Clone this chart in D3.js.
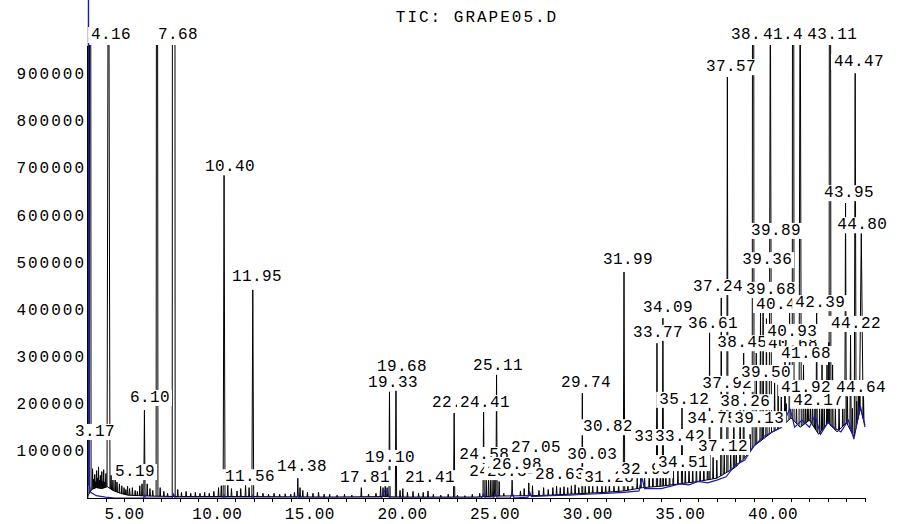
<!DOCTYPE html>
<html>
<head>
<meta charset="utf-8">
<script src="https://cdn.jsdelivr.net/npm/d3@7/dist/d3.min.js"></script>
<style>
    body { margin: 0; background: #fff; }
    text { font-family: "Liberation Mono", "DejaVu Sans Mono", monospace; font-size: 16px; fill: #000; }
    .axis path, .axis line { stroke: #000; stroke-width: 1px; shape-rendering: crispEdges; }
</style>
</head>
<body>
<div id="chart"></div>
<script>
/* * * * * * * * * * * * * *
*      TIC chromatogram     *
* * * * * * * * * * * * * */

// all abundances below are in thousands of counts
const chartTitle = "TIC: GRAPE05.D";
const xTickValues = [5, 10, 15, 20, 25, 30, 35, 40];
const yTickValues = [100, 200, 300, 400, 500, 600, 700, 800, 900];

// named peaks: retention time, apex abundance, peak width (min)
const peakRT = [3.17, 4.16, 6.10, 6.78, 7.68, 10.40, 11.95, 19.33, 19.68, 22.82, 24.41, 25.11,
    29.74, 31.99, 33.77, 34.09, 35.12, 36.61, 37.24, 37.57, 37.92, 38.26, 38.45, 38.96,
    39.13, 39.36, 39.50, 39.68, 39.89, 40.12, 40.31, 40.48, 40.68, 40.93, 41.12, 41.50,
    41.68, 41.92, 42.17, 42.39, 42.68, 42.95, 43.05, 43.11, 43.25, 43.95, 44.22, 44.47,
    44.64, 44.80];
const peakHeight = [3000, 1500, 186, 3000, 8000, 684, 441, 225, 255, 180, 182, 261,
    222, 479, 328, 381, 191, 350, 424, 892, 180, 200, 307, 3000,
    307, 392, 392, 380, 1100, 244, 240, 214, 300, 392, 3000, 1200,
    282, 250, 215, 392, 282, 282, 330, 3000, 282, 625, 345, 900,
    230, 561];
const peakWidth = [0.10, 0.16, 0.07, 0.10, 0.16, 0.10, 0.10, 0.07, 0.07, 0.07, 0.07, 0.07,
    0.05, 0.08, 0.07, 0.07, 0.07, 0.06, 0.07, 0.07, 0.06, 0.06, 0.06, 0.10,
    0.06, 0.07, 0.06, 0.07, 0.12, 0.06, 0.05, 0.08, 0.06, 0.07, 0.10, 0.12,
    0.06, 0.06, 0.06, 0.07, 0.06, 0.06, 0.06, 0.10, 0.06, 0.08, 0.07, 0.10,
    0.06, 0.20];

// small unlabelled spikes riding on the baseline
const noiseRT = [3.30, 3.36, 3.42, 3.48, 3.52, 3.58, 3.62, 3.68, 3.72, 3.80, 3.86, 3.90, 3.96, 4.02,
    4.30, 4.40, 4.52, 4.62, 4.75, 4.88,
    5.00, 5.10, 5.19, 5.30, 5.45, 5.60, 5.72, 5.85, 5.97, 6.25, 6.40, 6.55, 6.95, 7.15, 7.35,
    7.90, 8.10, 8.35, 8.60, 8.85, 9.10, 9.35, 9.60, 9.85, 10.10, 10.25, 10.60, 10.80, 11.10,
    11.30, 11.56, 11.75, 12.20, 12.50, 12.80, 13.10, 13.40, 13.70, 14.00, 14.20, 14.38, 14.50,
    14.65, 14.90, 15.20, 15.50, 15.80, 16.10, 16.50, 16.90, 17.30, 17.81, 18.20, 18.60, 18.85,
    18.98, 19.10, 19.20, 19.90, 20.05, 20.30, 20.60, 20.90, 21.15, 21.41, 21.70, 22.10, 22.50,
    23.00, 23.40, 23.80, 24.20, 24.55, 24.68, 24.80, 24.92, 25.02, 25.25, 25.50, 25.95, 26.40,
    26.60, 26.85, 27.05, 27.40, 27.65, 27.90, 28.15, 28.35, 28.55, 28.75, 28.95, 29.15, 29.35,
    29.55, 29.90, 30.10, 30.30, 30.55, 30.80, 31.00, 31.20, 31.45, 31.70, 32.20, 32.45, 32.70,
    32.90, 33.10, 33.35, 33.55, 33.95, 34.25, 34.45, 34.65, 34.90, 35.30, 35.50, 35.70, 35.90,
    36.10, 36.30, 36.50, 36.80, 37.00, 37.40, 37.75, 38.05, 38.65, 38.80, 40.75, 41.30, 41.80,
    42.05, 42.30, 42.55, 42.80, 43.40, 43.60, 43.80, 44.05, 44.32, 44.55, 44.72, 44.92];
const noiseHeight = [62, 40, 50, 35, 58, 42, 66, 38, 48, 56, 36, 60, 34, 52,
    48, 40, 44, 34, 30, 26,
    22, 18, 25, 20, 22, 16, 14, 26, 30, 30, 20, 16, 22, 14, 10,
    18, 12, 14, 10, 12, 10, 12, 10, 14, 22, 26, 28, 20, 15,
    20, 30, 22, 12, 10, 8, 10, 8, 9, 8, 12, 42, 22,
    16, 12, 10, 12, 8, 8, 6, 8, 6, 22, 8, 10, 26,
    22, 30, 22, 16, 20, 12, 14, 10, 12, 15, 8, 6, 8,
    6, 5, 8, 10, 42, 45, 42, 38, 40, 35, 10, 38, 15,
    20, 32, 26, 16, 22, 18, 22, 25, 22, 24, 22, 26, 28,
    22, 26, 30, 28, 32, 30, 28, 32, 26, 30, 36, 40, 46,
    55, 48, 58, 64, 56, 62, 66, 72, 58, 62, 72, 66, 76,
    70, 82, 76, 86, 80, 92, 96, 110, 125, 135, 200, 195, 205,
    200, 190, 195, 205, 195, 190, 200, 215, 190, 205, 235, 215];

// black trace baseline
const baseRT = [3.00, 3.25, 3.50, 3.80, 4.10, 4.40, 4.80, 5.20, 5.80, 6.50, 8.00, 12.0, 16.0,
    19.0, 20.0, 24.0, 25.0, 27.0, 28.0, 29.0, 30.0, 31.0, 32.0, 33.0, 34.0, 35.0, 36.0, 37.0,
    38.0, 38.5, 39.0, 39.5, 40.0, 40.5, 41.0, 41.5, 42.0, 42.5, 43.0, 43.5, 44.0, 44.4, 44.75, 45.0];
const baseValue = [2, 18, 22, 20, 24, 16, 10, 6, 5, 4, 3, 3, 2,
    3, 2, 2, 4, 5, 6, 8, 10, 12, 15, 22, 25, 30, 35, 42,
    65, 85, 110, 125, 140, 150, 170, 150, 165, 135, 160, 140, 160, 130, 190, 155];

// blue overlay trace
const blueRT = [3.00, 3.05, 3.08, 3.11, 3.20, 3.50, 4.00, 4.50, 6.05, 6.10, 6.15, 7.60, 7.68, 7.76,
    10.35, 10.40, 10.45, 11.90, 11.95, 12.00, 14.30, 14.38, 14.46, 18.90, 19.05, 19.20, 19.35,
    24.30, 24.40, 24.50, 24.95, 25.05, 25.15, 25.85, 25.95, 26.05, 26.80, 26.90, 27.00, 28.0,
    29.0, 30.0, 31.0, 32.0, 32.80, 32.95, 33.10, 34.0, 35.0, 35.5, 36.0, 36.5, 37.0, 37.5, 38.0,
    38.5, 39.0, 39.5, 40.0, 40.5, 40.95, 41.2, 41.6, 42.0, 42.3, 42.6, 43.0, 43.3, 43.7, 44.1,
    44.4, 44.75, 45.0];
const blueValue = [0, 0, 1300, 30, 12, 5, 2, 0, 0, 6, 0, 0, 8, 0,
    0, 6, 0, 0, 5, 0, 0, 6, 0, 0, 15, 14, 0,
    0, 8, 0, 0, 10, 0, 0, 12, 0, 2, 12, 3, 5,
    6, 8, 10, 12, 15, 44, 20, 20, 30, 28, 35, 32, 38, 45, 70,
    80, 110, 130, 140, 150, 190, 150, 165, 150, 175, 135, 160, 150, 140, 165,
    125, 195, 150];

// retention time labels: text, anchor time, anchor abundance
const labelText = ["3.17", "4.16", "5.19", "6.10", "7.68", "10.40", "11.56", "11.95", "14.38", "17.81",
    "19.10", "19.33", "19.68", "21.41", "22.82", "24.41", "24.58", "24.86", "25.11", "25.34",
    "26.98", "27.05", "28.63", "29.74", "30.03", "30.82", "31.28", "31.99", "32.99", "33.08",
    "33.42", "33.77", "34.09", "34.51", "34.75", "35.12", "36.61", "37.12", "37.24", "37.57",
    "37.92", "38.26", "38.45", "38.96", "39.13", "39.36", "39.50", "39.68", "39.89", "40.42",
    "40.68", "40.93", "41.41", "41.68", "41.92", "42.17", "42.39", "43.11", "43.95", "44.22",
    "44.47", "44.64", "44.80"];
const labelRT = [3.43, 4.30, 5.59, 6.40, 7.91, 10.72, 11.80, 12.18, 14.61, 18.01,
    19.36, 19.52, 20.01, 21.52, 22.98, 24.49, 24.44, 24.98, 25.19, 25.95,
    26.22, 27.24, 28.54, 29.94, 30.27, 31.13, 31.19, 32.21, 33.18, 33.89,
    35.02, 33.83, 34.37, 35.18, 36.75, 35.24, 36.80, 37.34, 37.07, 37.77,
    37.56, 38.53, 38.37, 39.12, 39.29, 39.72, 39.66, 39.93, 40.20, 40.47,
    41.12, 41.07, 40.85, 41.82, 41.82, 42.47, 42.58, 43.23, 44.14, 44.52,
    44.68, 44.79, 44.85];
const labelLevel = [140, 981, 55, 212, 981, 701, 44, 468, 66, 42,
    85, 244, 278, 42, 201, 201, 91, 55, 280, 55,
    70, 106, 49, 244, 91, 150, 42, 504, 59, 129,
    129, 350, 403, 74, 167, 208, 369, 108, 447, 913,
    242, 203, 328, 981, 167, 504, 265, 441, 566, 409,
    326, 352, 981, 305, 233, 206, 413, 981, 646, 369,
    924, 233, 578];


class ChromVis {

    constructor(parentElement) {
        this.parentElement = parentElement;
        this.initVis();
    }

    initVis() {
        let vis = this;

        vis.margin = {top: 45, right: 40, bottom: 26, left: 87};
        vis.width = 905 - vis.margin.left - vis.margin.right;
        vis.height = 524 - vis.margin.top - vis.margin.bottom;

        vis.root = d3.select("#" + vis.parentElement).append("svg")
            .attr("width", 905)
            .attr("height", 524);

        vis.svg = vis.root.append("g")
            .attr("transform", `translate(${vis.margin.left}, ${vis.margin.top})`);

        vis.x = d3.scaleLinear().domain([3.0, 45.0]).range([0, vis.width]);
        vis.y = d3.scaleLinear().domain([0, 960]).range([vis.height, 0]);

        // black trace is cut at the top of the frame
        vis.root.append("clipPath").attr("id", "plot-clip")
            .append("rect")
            .attr("x", 0).attr("y", 0)
            .attr("width", vis.width + 1).attr("height", vis.height);

        vis.line = d3.line()
            .x(d => vis.x(d[0]))
            .y(d => vis.y(d[1]));

        vis.wrangleData();
    }

    wrangleData() {
        let vis = this;

        vis.baseline = baseRT.map((t, i) => [t, baseValue[i]]);
        vis.blue = blueRT.map((t, i) => [t, blueValue[i]]);

        // baseline under each spike comes from a piecewise scale over the knots
        vis.baseAt = d3.scaleLinear().domain(baseRT).range(baseValue).clamp(true);

        let spike = (t, h, w) => [
            [t - w / 2, vis.baseAt(t - w / 2)],
            [t, h],
            [t + w / 2, vis.baseAt(t + w / 2)]
        ];

        vis.spikes = noiseRT.map((t, i) => spike(t, noiseHeight[i], 0.05))
            .concat(peakRT.map((t, i) => spike(t, peakHeight[i], peakWidth[i])));

        vis.labels = labelText.map((s, i) => ({text: s, t: labelRT[i], v: labelLevel[i]}))
            .sort((a, b) => parseFloat(a.text) - parseFloat(b.text));

        vis.updateVis();
    }

    updateVis() {
        let vis = this;

        let trace = vis.svg.append("g").attr("clip-path", "url(#plot-clip)");

        trace.append("path")
            .attr("d", vis.line(vis.baseline))
            .attr("fill", "none")
            .attr("stroke", "#000")
            .attr("stroke-width", 1);

        // blue overlay is not clipped, the solvent front runs off the top
        vis.svg.append("path")
            .attr("d", vis.line(vis.blue))
            .attr("fill", "none")
            .attr("stroke", "#1c1ca8")
            .attr("stroke-width", 1.2);

        trace.selectAll("path.spike")
            .data(vis.spikes)
            .enter().append("path")
            .attr("class", "spike")
            .attr("d", d => vis.line(d))
            .attr("fill", "none")
            .attr("stroke", "#000")
            .attr("stroke-width", 1);

        // axes
        vis.svg.append("g")
            .attr("class", "axis x-axis")
            .attr("transform", `translate(0, ${vis.height})`)
            .call(d3.axisBottom(vis.x)
                .tickValues(d3.range(4, 46))
                .tickSize(4)
                .tickSizeOuter(0)
                .tickPadding(6)
                .tickFormat(d => xTickValues.includes(d) ? d3.format(".2f")(d) : ""))
            .selectAll("text")
            .style("font-size", "16px")
            .style("letter-spacing", "0.4px")
            .style("font-family", "'Liberation Mono', monospace");

        vis.svg.append("g")
            .attr("class", "axis y-axis")
            .call(d3.axisLeft(vis.y)
                .tickValues(yTickValues)
                .tickSize(0)
                .tickSizeOuter(0)
                .tickPadding(1)
                .tickFormat(d => d3.format("d")(d * 1000)))
            .selectAll("text")
            .style("font-size", "16px")
            .style("letter-spacing", "2px")
            .style("font-family", "'Liberation Mono', monospace");

        // title
        vis.root.append("text")
            .attr("x", 477)
            .attr("y", 18)
            .attr("text-anchor", "middle")
            .attr("dominant-baseline", "central")
            .style("letter-spacing", "2px")
            .text(chartTitle);

        // retention time labels, later ones paint over earlier ones
        let labelGroup = vis.svg.append("g").attr("class", "rt-labels");
        vis.labels.forEach(d => {
            let g = labelGroup.append("g");
            let bg = g.append("rect").attr("fill", "#fff");
            let txt = g.append("text")
                .attr("x", vis.x(d.t))
                .attr("y", vis.y(d.v))
                .attr("text-anchor", "middle")
                .attr("dominant-baseline", "central")
                .style("letter-spacing", "0.4px")
                .text(d.text);
            let box = txt.node().getBBox();
            bg.attr("x", box.x - 3)
                .attr("y", box.y + 1)
                .attr("width", box.width + 5)
                .attr("height", box.height - 2);
        });
    }
}

new ChromVis("chart");
</script>
</body>
</html>
